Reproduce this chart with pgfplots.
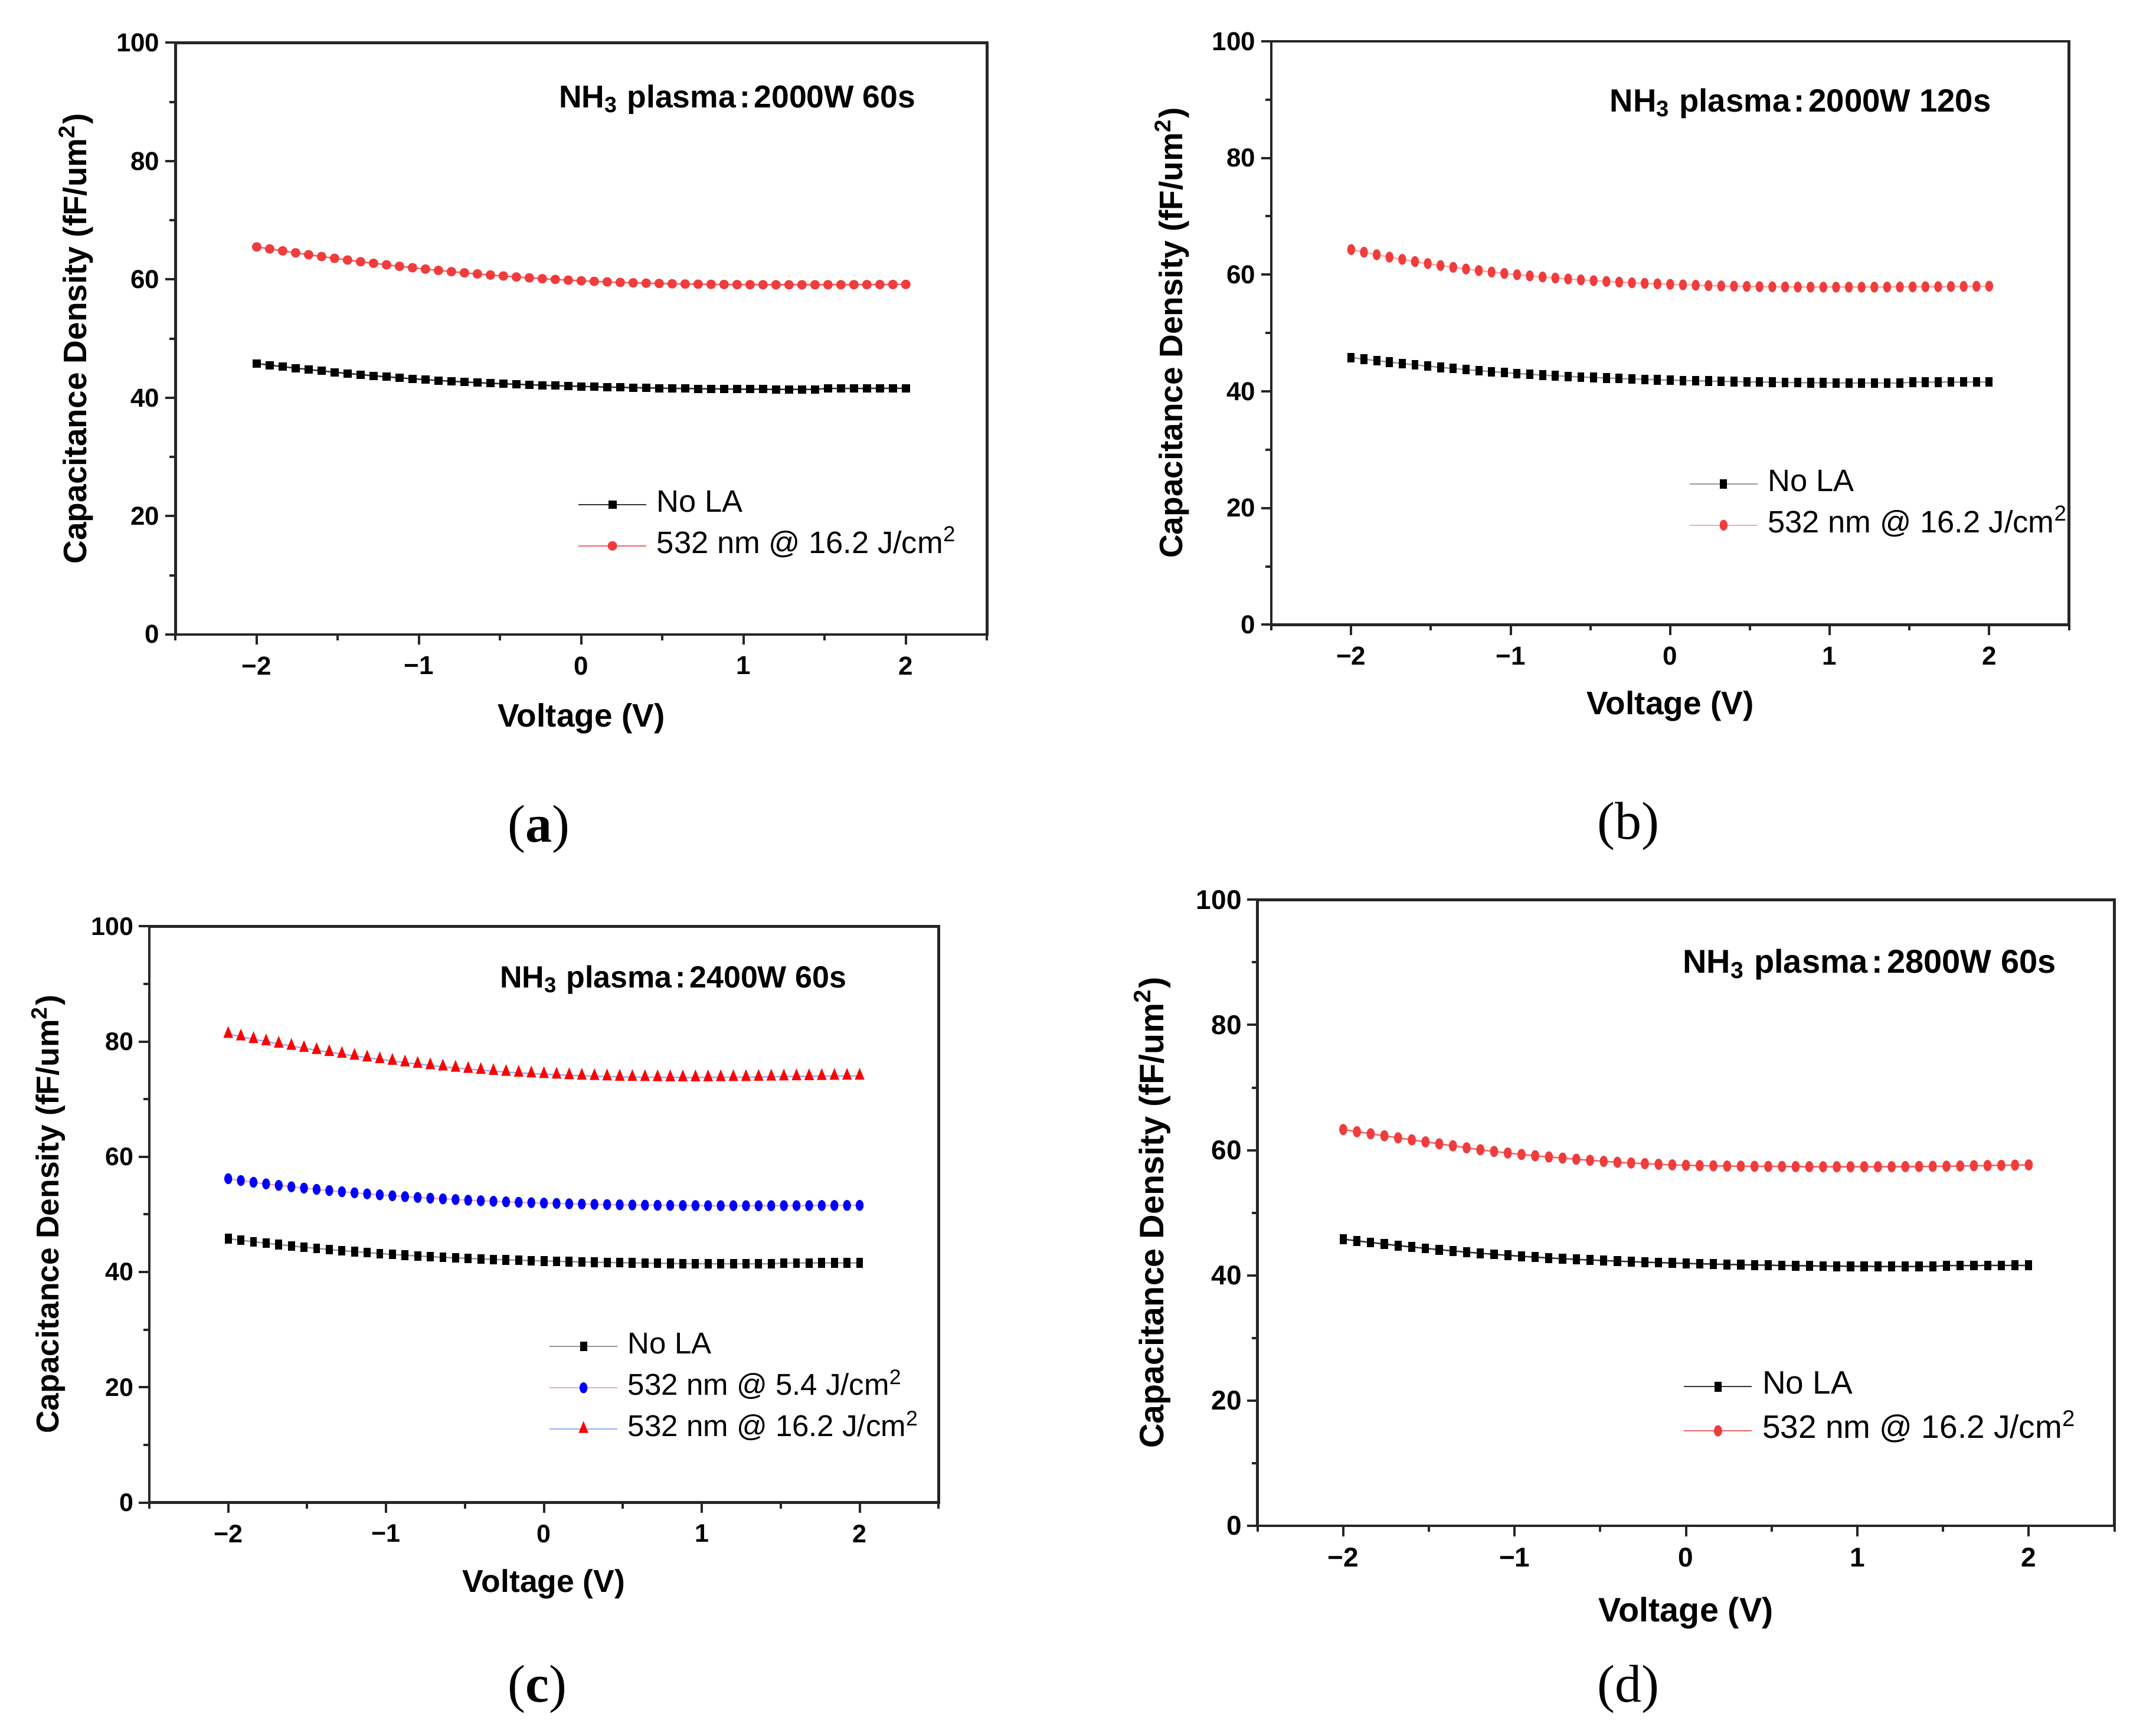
\documentclass[border=0pt]{standalone}
\usepackage{fontspec}
\setmainfont{Liberation Sans}
\newfontfamily\capfont{Liberation Serif}
\usepackage{pgfplots}
\pgfplotsset{compat=1.18}
\usepackage{pgfplotstable}

\definecolor{ptred}{RGB}{240,60,60}
\definecolor{lnred}{RGB}{240,100,100}
\definecolor{lnpink}{RGB}{255,165,165}
\definecolor{lnblue}{RGB}{140,175,255}
\definecolor{lngray}{RGB}{150,150,150}

\pgfplotstableread{
V noLA a b c5 c16 d
-2.00 45.80 65.50 64.30 56.20 81.30 63.30
-1.92 45.52 65.16 63.85 55.88 80.85 62.95
-1.84 45.26 64.83 63.42 55.58 80.40 62.62
-1.76 45.01 64.50 63.01 55.30 80.00 62.30
-1.68 44.77 64.18 62.62 55.04 79.60 61.97
-1.60 44.54 63.87 62.25 54.80 79.22 61.65
-1.52 44.32 63.57 61.90 54.57 78.85 61.33
-1.44 44.11 63.28 61.57 54.35 78.50 61.01
-1.36 43.91 63.00 61.26 54.14 78.15 60.70
-1.28 43.72 62.73 60.97 53.94 77.82 60.38
-1.20 43.54 62.47 60.70 53.75 77.50 60.07
-1.12 43.37 62.22 60.45 53.57 77.20 59.80
-1.04 43.21 61.98 60.21 53.40 76.90 59.55
-0.96 43.06 61.75 59.99 53.24 76.62 59.32
-0.88 42.92 61.53 59.79 53.09 76.35 59.11
-0.80 42.79 61.32 59.60 52.95 76.10 58.92
-0.72 42.67 61.12 59.42 52.82 75.86 58.74
-0.64 42.56 60.93 59.26 52.70 75.63 58.56
-0.56 42.46 60.75 59.11 52.58 75.42 58.39
-0.48 42.37 60.58 58.97 52.47 75.22 58.22
-0.40 42.28 60.42 58.84 52.37 75.03 58.07
-0.32 42.20 60.27 58.72 52.28 74.86 57.96
-0.24 42.12 60.13 58.61 52.19 74.70 57.85
-0.16 42.05 60.00 58.51 52.11 74.56 57.75
-0.08 41.98 59.88 58.42 52.04 74.43 57.66
0.00 41.92 59.77 58.34 51.97 74.32 57.59
0.08 41.86 59.67 58.26 51.91 74.22 57.54
0.16 41.81 59.58 58.19 51.85 74.13 57.50
0.24 41.76 59.50 58.13 51.80 74.05 57.47
0.32 41.71 59.43 58.07 51.75 73.98 57.45
0.40 41.67 59.37 58.02 51.71 73.92 57.43
0.48 41.63 59.32 57.98 51.67 73.87 57.41
0.56 41.59 59.27 57.95 51.64 73.83 57.40
0.64 41.56 59.23 57.92 51.61 73.80 57.38
0.72 41.53 59.20 57.90 51.59 73.78 57.37
0.80 41.50 59.17 57.88 51.57 73.77 57.36
0.88 41.48 59.15 57.87 51.55 73.76 57.36
0.96 41.46 59.13 57.86 51.54 73.76 57.36
1.04 41.45 59.12 57.86 51.53 73.77 57.36
1.12 41.44 59.11 57.86 51.52 73.78 57.36
1.20 41.43 59.10 57.86 51.52 73.80 57.37
1.28 41.43 59.10 57.87 51.52 73.82 57.38
1.36 41.43 59.10 57.88 51.52 73.85 57.40
1.44 41.43 59.10 57.89 51.52 73.88 57.42
1.52 41.57 59.11 57.91 51.53 73.91 57.45
1.60 41.58 59.11 57.93 51.53 73.94 57.48
1.68 41.58 59.12 57.95 51.54 73.97 57.52
1.76 41.59 59.13 57.97 51.55 74.00 57.55
1.84 41.59 59.14 57.99 51.56 74.02 57.58
1.92 41.60 59.15 58.01 51.57 74.03 57.62
2.00 41.60 59.16 58.03 51.58 74.04 57.65
}\data

\pgfplotsset{
  panel/.style={
    scale only axis, anchor=south west,
    xmin=-2.5, xmax=2.5, ymin=0, ymax=100,
    xtick={-2,-1,0,1,2}, xticklabels={−2,−1,0,1,2},
    minor xtick={-2.5,-1.5,-0.5,0.5,1.5,2.5},
    ytick={0,20,40,60,80,100}, minor ytick={10,30,50,70,90},
    tick align=outside, tick pos=left,
    major tick length=3.5pt, minor tick length=2pt,
    axis line style={line width=0.9pt, black!85},
    every tick/.style={line width=0.8pt, black!85},
    /pgf/number format/assume math mode=true,
    xticklabel style={anchor=north, inner sep=0pt, yshift=-3.8pt},
    yticklabel style={anchor=east, inner sep=0pt, xshift=-1.7pt},
    xlabel={Voltage (V)},
    ylabel={Capacitance Density (fF/um\textsuperscript{2})},
    xlabel style={anchor=center},
    ylabel style={anchor=center},
    legend cell align=left,
    legend image code/.code={\draw[mark repeat=2,mark phase=2,##1] plot coordinates {(0pt,0pt) (11.5pt,0pt) (23pt,0pt)};},
    legend style={draw=none, fill=none, anchor=north west, inner sep=0pt, outer sep=0pt,
      row sep=3.8pt, column sep=3.3pt,
      nodes={inner sep=0pt, text height=7.6pt, text depth=2.6pt}},
  },
  fsz/.style n args={3}{
    tick label style={font=\bfseries\fontsize{#1}{#1}\selectfont},
    label style={font=\bfseries\fontsize{#2}{#2}\selectfont},
    legend style={font=\fontsize{#3}{#3}\selectfont},
  },
}

\begin{document}
\begin{tikzpicture}
\useasboundingbox (0,0) rectangle (730.7pt,-582.7pt);

% (a)
\begin{axis}[panel, fsz={8.8}{11}{10.5},
  at={(59.5pt,-215.0pt)}, width=275.0pt, height=200.5pt,
  xlabel style={at={(axis description cs:0.5,-0.1426)}},
  ylabel style={at={(axis description cs:-0.1226,0.5)}},
  legend style={at={(axis description cs:0.4957,0.2449)}}]
\addplot[line width=0.5pt, black!80, mark=square*, mark size=1.15pt, mark options={fill=black, draw=black}] table[x=V,y=noLA]{\data};
\addlegendentry{No LA}
\addplot[line width=0.5pt, lnred, mark=*, mark size=1.35pt, mark options={fill=ptred, draw=ptred}] table[x=V,y=a]{\data};
\addlegendentry{532 nm @ 16.2 J/cm\textsuperscript{2}}
\end{axis}

% (b)
\begin{axis}[panel, fsz={8.8}{11}{10.5},
  at={(430.9pt,-211.7pt)}, width=270.3pt, height=197.7pt,
  xlabel style={at={(axis description cs:0.5,-0.1396)}},
  ylabel style={at={(axis description cs:-0.1247,0.5)}},
  legend style={at={(axis description cs:0.5235,0.2671)}}]
\addplot[line width=0.5pt, lngray, mark=square*, mark size=1.25pt, mark options={xscale=0.75, yscale=1.1, fill=black, draw=black}] table[x=V,y=noLA]{\data};
\addlegendentry{No LA}
\addplot[line width=0.5pt, lnpink, mark=*, mark size=1.45pt, mark options={xscale=0.75, yscale=1.1, fill=ptred, draw=ptred}] table[x=V,y=b]{\data};
\addlegendentry{532 nm @ 16.2 J/cm\textsuperscript{2}}
\end{axis}

% (c)
\begin{axis}[panel, fsz={8.6}{10.7}{10.2},
  at={(50.6pt,-509.2pt)}, width=267.5pt, height=195.3pt,
  xlabel style={at={(axis description cs:0.5,-0.1413)}},
  ylabel style={at={(axis description cs:-0.1279,0.5)}},
  legend style={at={(axis description cs:0.5062,0.2970)}}]
\addplot[line width=0.5pt, lngray, mark=square*, mark size=1.25pt, mark options={xscale=0.75, yscale=1.1, fill=black, draw=black}] table[x=V,y=noLA]{\data};
\addlegendentry{No LA}
\addplot[line width=0.5pt, lnpink, mark=*, mark size=1.45pt, mark options={xscale=0.75, yscale=1.1, fill=blue, draw=blue}] table[x=V,y=c5]{\data};
\addlegendentry{532 nm @ 5.4 J/cm\textsuperscript{2}}
\addplot[line width=0.5pt, lnblue, mark=triangle*, mark size=1.95pt, mark options={xscale=0.75, yscale=1.05, fill=red, draw=red}] table[x=V,y=c16]{\data};
\addlegendentry{532 nm @ 16.2 J/cm\textsuperscript{2}}
\end{axis}

% (d)
\begin{axis}[panel, fsz={9.2}{11.5}{11},
  at={(426.2pt,-517.1pt)}, width=290.4pt, height=212.2pt,
  xlabel style={at={(axis description cs:0.5,-0.1390)}},
  ylabel style={at={(axis description cs:-0.1226,0.5)}},
  legend style={at={(axis description cs:0.4969,0.2465)}, row sep=4.8pt}]
\addplot[line width=0.5pt, black!80, mark=square*, mark size=1.3pt, mark options={xscale=0.75, yscale=1.1, fill=black, draw=black}] table[x=V,y=noLA]{\data};
\addlegendentry{No LA}
\addplot[line width=0.5pt, lnred, mark=*, mark size=1.5pt, mark options={xscale=0.75, yscale=1.1, fill=ptred, draw=ptred}] table[x=V,y=d]{\data};
\addlegendentry{532 nm @ 16.2 J/cm\textsuperscript{2}}
\end{axis}

% titles
\node[anchor=east, inner sep=0pt, font=\bfseries\fontsize{10.7}{12}\selectfont] at (310.5pt,-33.7pt) {NH\textsubscript{3} plasma\hspace{0.12em}:\hspace{0.12em}2000W 60s};
\node[anchor=east, inner sep=0pt, font=\bfseries\fontsize{10.9}{12}\selectfont] at (675.0pt,-35.1pt) {NH\textsubscript{3} plasma\hspace{0.12em}:\hspace{0.12em}2000W 120s};
\node[anchor=east, inner sep=0pt, font=\bfseries\fontsize{10.4}{12}\selectfont] at (287.1pt,-332.1pt) {NH\textsubscript{3} plasma\hspace{0.12em}:\hspace{0.12em}2400W 60s};
\node[anchor=east, inner sep=0pt, font=\bfseries\fontsize{11.2}{12}\selectfont] at (697.0pt,-326.9pt) {NH\textsubscript{3} plasma\hspace{0.12em}:\hspace{0.12em}2800W 60s};

% captions
\node[font=\capfont\fontsize{18}{20}\selectfont] at (182.7pt,-281.0pt) {(\textbf{a})};
\node[font=\capfont\fontsize{18}{20}\selectfont] at (551.8pt,-280.1pt) {(b)};
\node[font=\capfont\fontsize{18}{20}\selectfont] at (182.2pt,-572.4pt) {(\textbf{c})};
\node[font=\capfont\fontsize{18}{20}\selectfont] at (551.8pt,-572.4pt) {(d)};
\end{tikzpicture}
\end{document}
